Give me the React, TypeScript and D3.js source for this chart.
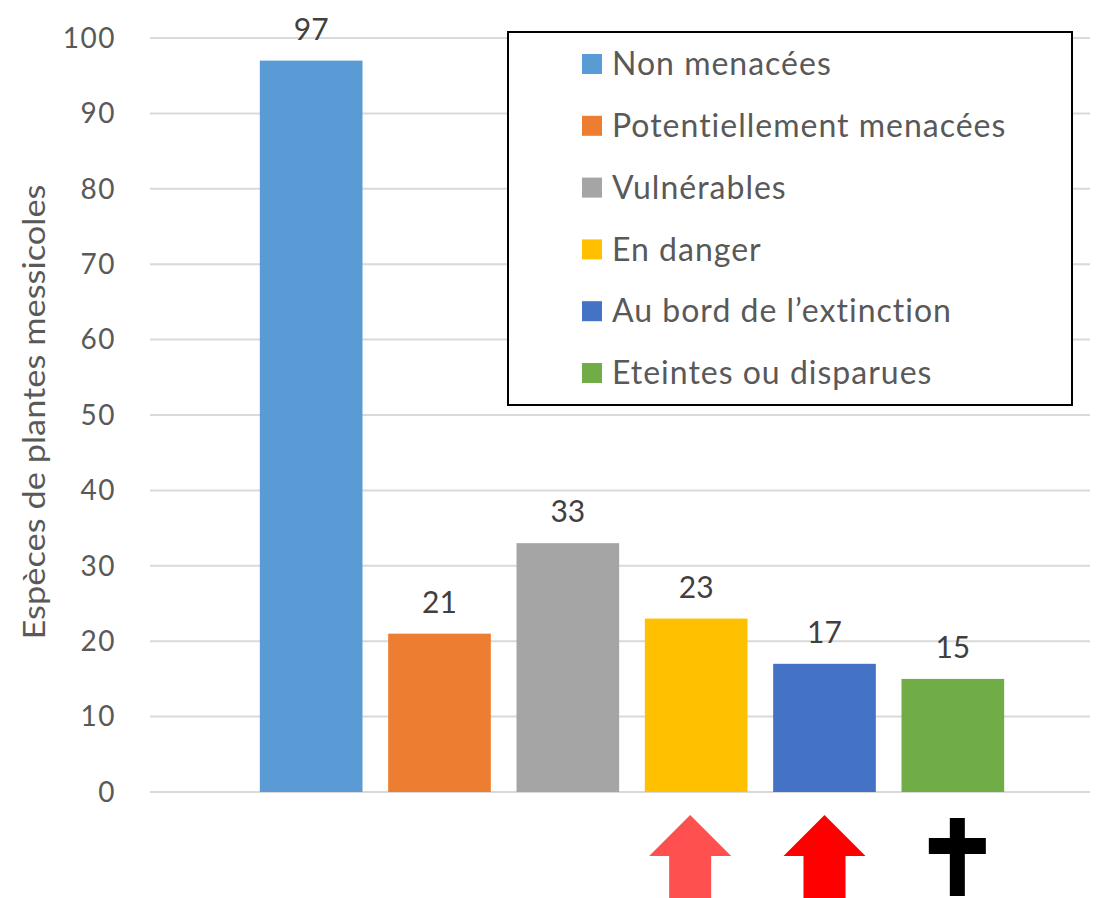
import * as d3 from 'd3';

const categories = [
  'Non menacées',
  'Potentiellement menacées',
  'Vulnérables',
  'En danger',
  'Au bord de l’extinction',
  'Eteintes ou disparues',
];
const values = [97, 21, 33, 23, 17, 15];
const colors = ['#5B9BD5', '#ED7D31', '#A5A5A5', '#FFC000', '#4472C4', '#70AD47'];
const yTicks = [0, 10, 20, 30, 40, 50, 60, 70, 80, 90, 100];
const yTitle = 'Espèces de plantes messicoles';
// repères sous les barres
const markerCats = ['En danger', 'Au bord de l’extinction', 'Eteintes ou disparues'];
const markerKinds = ['arrow', 'arrow', 'cross'];
const markerColors = ['#FF5050', '#FF0000', '#000000'];

const W = 1100;
const H = 898;
const FONT = 'Lato, "Open Sans", sans-serif';

export default function App() {
  const x = d3
    .scaleBand<string>()
    .domain(categories)
    .range([247, 1017])
    .paddingInner(0.2)
    .paddingOuter(0.1);
  const y = d3.scaleLinear().domain([0, 100]).range([792, 38]);

  const gridX0 = 150;
  const gridX1 = 1090;

  const arrowPath = (cx: number, top: number) => {
    const hw = 41; // demi-largeur de la tête
    const sw = 21; // demi-largeur de la tige
    const head = 41;
    return `M${cx},${top} L${cx + hw},${top + head} L${cx + sw},${top + head} L${cx + sw},${H} L${cx - sw},${H} L${cx - sw},${top + head} L${cx - hw},${top + head} Z`;
  };

  return (
    <svg
      width={W}
      height={H}
      style={{ position: 'absolute', left: 0, top: 0, background: '#fff' }}
      fontFamily={FONT}
    >
      {/* grille */}
      {yTicks.map((t) => (
        <line
          key={'g' + t}
          x1={gridX0}
          x2={gridX1}
          y1={y(t)}
          y2={y(t)}
          stroke="#D9D9D9"
          strokeWidth={2}
        />
      ))}
      {/* graduations */}
      {yTicks.map((t) => (
        <text
          key={'t' + t}
          x={116}
          y={y(t)}
          dy="0.35em"
          textAnchor="end"
          fontSize={28}
          letterSpacing={1.5}
          fill="#595959"
        >
          {t}
        </text>
      ))}
      <text
        transform={`translate(45, 412) rotate(-90)`}
        textAnchor="middle"
        fontSize={31}
        textLength={455}
        lengthAdjust="spacingAndGlyphs"
        fill="#595959"
      >
        {yTitle}
      </text>

      {/* barres */}
      {categories.map((c, i) => (
        <g key={c}>
          <rect
            x={x(c)}
            y={y(values[i])}
            width={x.bandwidth()}
            height={y(0) - y(values[i])}
            fill={colors[i]}
          />
          <text
            x={(x(c) ?? 0) + x.bandwidth() / 2}
            y={y(values[i]) - 21}
            textAnchor="middle"
            fontSize={30}
            fill="#404040"
          >
            {values[i]}
          </text>
        </g>
      ))}

      {/* flèches et croix */}
      {markerCats.map((c, i) => {
        const cx = (x(c) ?? 0) + x.bandwidth() / 2;
        if (markerKinds[i] === 'arrow') {
          return <path key={c} d={arrowPath(cx - (i === 0 ? 6 : 0), 815)} fill={markerColors[i]} />;
        }
        return (
          <g key={c} fill={markerColors[i]}>
            <rect x={cx - 3} y={818} width={15} height={78} />
            <rect x={cx - 24} y={838} width={57} height={16} />
          </g>
        );
      })}

      {/* légende */}
      <rect x={508} y={32} width={564} height={373} fill="#fff" stroke="#000" strokeWidth={2} />
      {categories.map((c, i) => {
        const ly = 64 + i * 61.8;
        return (
          <g key={'l' + c}>
            <rect x={582} y={ly - 10} width={20} height={20} fill={colors[i]} />
            <text x={612} y={ly} dy="0.35em" fontSize={32} letterSpacing={1} fill="#595959">
              {c}
            </text>
          </g>
        );
      })}
    </svg>
  );
}
